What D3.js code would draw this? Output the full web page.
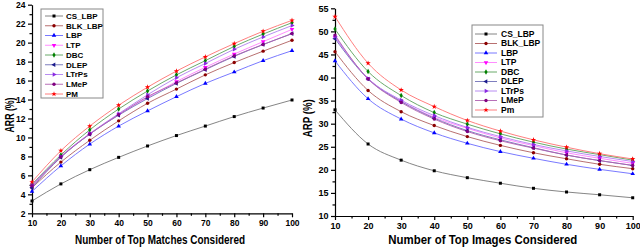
<!DOCTYPE html>
<html>
<head>
<meta charset="utf-8">
<script src="https://cdn.jsdelivr.net/npm/d3@7"></script>
<style>
	body { margin: 0; background: #fff; }
	svg { display: block; }
	text { font-family: "Liberation Sans", Arial, sans-serif; font-weight: bold; fill: #000; }
	.axis path, .axis line { stroke: #000; stroke-width: 1.2; }
</style>
</head>
<body>
<svg id="chart" width="640" height="248"></svg>
<script>
const topCounts = [10, 20, 30, 40, 50, 60, 70, 80, 90, 100];
const methods = ['CS_LBP', 'BLK_LBP', 'LBP', 'LTP', 'DBC', 'DLEP', 'LTrPs', 'LMeP', 'PM'];
const rightLabels = ['CS_LBP', 'BLK_LBP', 'LBP', 'LTP', 'DBC', 'DLEP', 'LTrPs', 'LMeP', 'Pm'];

// ARR (%) per method
const arrCsLbp = [3.3, 5.1, 6.6, 7.9, 9.1, 10.2, 11.2, 12.2, 13.1, 13.95];
const arrBlkLbp = [4.7, 7.4, 9.7, 11.75, 13.6, 15.1, 16.6, 17.9, 19.1, 20.25];
const arrLbp = [4.3, 7.0, 9.3, 11.2, 12.8, 14.3, 15.7, 16.9, 18.1, 19.15];
const arrLtp = [4.8, 8.0, 10.4, 12.45, 14.2, 15.9, 17.4, 18.8, 20.1, 21.4];
const arrDbc = [5.05, 8.15, 10.8, 13.0, 14.9, 16.6, 18.1, 19.6, 20.9, 22.1];
const arrDlep = [4.7, 7.9, 10.35, 12.35, 14.1, 15.7, 17.15, 18.55, 19.8, 20.95];
const arrLtrps = [5.0, 8.0, 10.4, 12.5, 14.5, 16.3, 17.8, 19.3, 20.6, 21.8];
const arrLmep = [4.9, 7.95, 10.35, 12.4, 14.3, 15.75, 17.2, 18.6, 19.8, 20.95];
const arrPm = [5.3, 8.6, 11.2, 13.4, 15.3, 17.0, 18.5, 19.9, 21.2, 22.35];

// ARP (%) per method
const arpCsLbp = [33.0, 25.6, 22.1, 19.8, 18.3, 17.1, 16.0, 15.2, 14.6, 13.95];
const arpBlkLbp = [45.6, 37.2, 32.6, 29.6, 27.2, 25.3, 23.7, 22.4, 21.2, 20.25];
const arpLbp = [43.6, 35.4, 31.0, 28.0, 25.75, 23.95, 22.5, 21.2, 20.1, 19.15];
const arpLtp = [48.7, 39.8, 34.9, 31.4, 29.0, 26.9, 25.25, 23.7, 22.5, 21.4];
const arpDbc = [50.5, 41.3, 36.1, 32.4, 29.9, 27.8, 26.0, 24.5, 23.3, 22.1];
const arpDlep = [48.4, 39.7, 34.8, 31.2, 28.5, 26.5, 24.8, 23.2, 22.0, 20.95];
const arpLtrps = [48.9, 39.8, 35.1, 31.75, 29.2, 27.2, 25.5, 24.1, 22.9, 21.8];
const arpLmep = [49.2, 39.7, 34.6, 31.0, 28.3, 26.3, 24.7, 23.2, 22.0, 20.95];
const arpPm = [53.2, 43.1, 37.3, 33.7, 30.7, 28.4, 26.5, 24.9, 23.5, 22.35];

const arrSeries = [arrCsLbp, arrBlkLbp, arrLbp, arrLtp, arrDbc, arrDlep, arrLtrps, arrLmep, arrPm];
const arpSeries = [arpCsLbp, arpBlkLbp, arpLbp, arpLtp, arpDbc, arpDlep, arpLtrps, arpLmep, arpPm];

const colors = ['#000000', '#8b0000', '#0000ff', '#ff00ff', '#008000', '#1a1a8c', '#8a2be2', '#800080', '#ff0000'];
const lineColors = ['#777777', '#b06060', '#6a6aff', '#ff80ff', '#5aa05a', '#7070b8', '#b080f0', '#b060b0', '#ff7070'];
const symbols = [d3.symbolSquare, d3.symbolCircle, d3.symbolTriangle, d3.symbolTriangle, d3.symbolDiamond,
	d3.symbolTriangle, d3.symbolTriangle, d3.symbolCircle, d3.symbolStar];
const rotations = [0, 0, 0, 180, 0, -90, 90, 0, 0];

const svg = d3.select('#chart');

function drawPanel(opts) {
	const { left, right, top, bottom, yDomain, yTicks, series, labels, legend, yTitle, yTitleX, yTitleLen, xTitle, xTitleLen, tickFont } = opts;
	const x = d3.scaleLinear().domain([10, 100]).range([left, right]);
	const y = d3.scaleLinear().domain(yDomain).range([bottom, top]);
	const g = svg.append('g');

	// minor ticks
	const minorX = d3.range(15, 100, 10);
	g.append('g').attr('class', 'axis')
		.attr('transform', `translate(0,${bottom})`)
		.call(d3.axisBottom(x).tickValues(minorX).tickSize(2.5).tickFormat(''))
		.call(a => a.select('.domain').remove());
	const minorY = d3.range(yDomain[0] + yTicks / 2, yDomain[1], yTicks);
	g.append('g').attr('class', 'axis')
		.attr('transform', `translate(${left},0)`)
		.call(d3.axisLeft(y).tickValues(minorY).tickSize(2.5).tickFormat(''))
		.call(a => a.select('.domain').remove());

	g.append('g').attr('class', 'axis')
		.attr('transform', `translate(0,${bottom})`)
		.call(d3.axisBottom(x).tickValues(topCounts).tickSize(4).tickSizeOuter(0).tickPadding(3))
		.call(a => a.selectAll('text').attr('font-size', tickFont));
	g.append('g').attr('class', 'axis')
		.attr('transform', `translate(${left},0)`)
		.call(d3.axisLeft(y).tickValues(d3.range(yDomain[0], yDomain[1] + 0.01, yTicks)).tickSize(4).tickSizeOuter(0).tickPadding(2.5))
		.call(a => a.selectAll('text').attr('font-size', tickFont));

	const line = d3.line()
		.x((d, i) => x(topCounts[i]))
		.y(d => y(d))
		.curve(d3.curveMonotoneX);

	series.forEach((vals, k) => {
		g.append('path')
			.datum(vals)
			.attr('fill', 'none')
			.attr('stroke', lineColors[k])
			.attr('stroke-width', 0.9)
			.attr('d', line);
	});
	series.forEach((vals, k) => {
		g.selectAll(null)
			.data(vals)
			.join('path')
			.attr('transform', (d, i) => `translate(${x(topCounts[i])},${y(d)}) rotate(${rotations[k]})`)
			.attr('d', d3.symbol(symbols[k], 9))
			.attr('fill', colors[k]);
	});

	// legend
	const lg = g.append('g').attr('transform', `translate(${legend.x},${legend.y})`);
	lg.append('rect')
		.attr('width', legend.w)
		.attr('height', legend.h)
		.attr('fill', '#fff')
		.attr('stroke', '#888')
		.attr('stroke-width', 1);
	labels.forEach((name, k) => {
		const ry = legend.first + k * legend.step;
		lg.append('line')
			.attr('x1', legend.lineX0).attr('x2', legend.lineX1)
			.attr('y1', ry).attr('y2', ry)
			.attr('stroke', lineColors[k]).attr('stroke-width', 0.9);
		lg.append('path')
			.attr('transform', `translate(${(legend.lineX0 + legend.lineX1) / 2},${ry}) rotate(${rotations[k]})`)
			.attr('d', d3.symbol(symbols[k], 9))
			.attr('fill', colors[k]);
		lg.append('text')
			.attr('x', legend.textX)
			.attr('y', ry)
			.attr('dy', '0.35em')
			.attr('font-size', legend.font)
			.text(name);
	});

	g.append('text')
		.attr('transform', `translate(${yTitleX},${(top + bottom) / 2 + 6}) rotate(-90)`)
		.attr('text-anchor', 'middle')
		.attr('font-size', 13)
		.attr('textLength', yTitleLen)
		.attr('lengthAdjust', 'spacingAndGlyphs')
		.text(yTitle);
	g.append('text')
		.attr('x', (left + right) / 2 + opts.xTitleShift)
		.attr('y', 244)
		.attr('text-anchor', 'middle')
		.attr('font-size', 12.5)
		.attr('textLength', xTitleLen)
		.attr('lengthAdjust', 'spacingAndGlyphs')
		.text(xTitle);
}

drawPanel({
	left: 32, right: 292, top: 4.7, bottom: 213.3,
	yDomain: [2, 24], yTicks: 2, tickFont: 8.5,
	series: arrSeries, labels: methods,
	legend: { x: 41, y: 9, w: 62, h: 89, first: 7, step: 9.75, lineX0: 4, lineX1: 22, textX: 25, font: 8 },
	yTitle: 'ARR (%)', yTitleX: 14, yTitleLen: 35,
	xTitle: 'Number of Top Matches Considered', xTitleLen: 170, xTitleShift: -2
});

drawPanel({
	left: 335, right: 632.7, top: 8.3, bottom: 216,
	yDomain: [10, 55], yTicks: 5, tickFont: 9,
	series: arpSeries, labels: rightLabels,
	legend: { x: 472, y: 25, w: 71, h: 92, first: 9, step: 9.5, lineX0: 3, lineX1: 25, textX: 29, font: 8.5 },
	yTitle: 'ARP (%)', yTitleX: 312, yTitleLen: 38,
	xTitle: 'Number of Top Images Considered', xTitleLen: 189, xTitleShift: -1
});
</script>
</body>
</html>
